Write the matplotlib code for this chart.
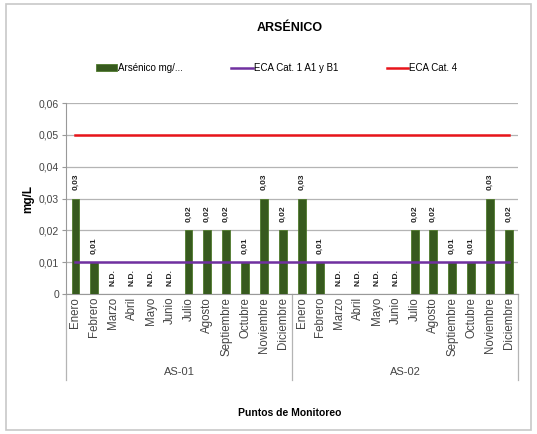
import matplotlib.pyplot as plt
from matplotlib.patches import Rectangle
import matplotlib.transforms as mtransforms

plt.rcParams['font.family'] = ['Liberation Sans', 'DejaVu Sans']

# data
meses = ['Enero', 'Febrero', 'Marzo', 'Abril', 'Mayo', 'Junio', 'Julio',
         'Agosto', 'Septiembre', 'Octubre', 'Noviembre', 'Diciembre']
puntos = ['AS-01', 'AS-02']
# None = N.D.
as01 = [0.03, 0.01, None, None, None, None, 0.02, 0.02, 0.02, 0.01, 0.03, 0.02]
as02 = [0.03, 0.01, None, None, None, None, 0.02, 0.02, 0.01, 0.01, 0.03, 0.02]
eca_cat1 = 0.01
eca_cat4 = 0.05

valores = as01 + as02
etiquetas = meses + meses
x = list(range(len(valores)))
alturas = [v if v is not None else 0 for v in valores]

fig = plt.figure(figsize=(5.37, 4.34), dpi=100)
fig.patch.set_facecolor('white')
# light frame around the chart
fig.add_artist(Rectangle((0.012, 0.01), 0.976, 0.98, transform=fig.transFigure,
                         fill=False, edgecolor='#c8c8c8', linewidth=1.2))

ax = fig.add_axes([0.123, 0.3226, 0.842, 0.44])

barras = ax.bar(x, alturas, width=0.42, color='#375a1e', edgecolor='#4f7a2c',
                linewidth=0.6, label='Arsénico mg/...', zorder=3)
l1, = ax.plot([x[0], x[-1]], [eca_cat1, eca_cat1], color='#7030a0',
              linewidth=1.8, label='ECA Cat. 1 A1 y B1', zorder=4)
l4, = ax.plot([x[0], x[-1]], [eca_cat4, eca_cat4], color='#e8141a',
              linewidth=1.8, label='ECA Cat. 4', zorder=4)

# data labels
for xi, v in zip(x, valores):
    txt = 'N.D.' if v is None else f'{v:.2f}'.replace('.', ',')
    ax.annotate(txt, (xi, v if v is not None else 0), xytext=(0, 6),
                textcoords='offset points', rotation=90, ha='center',
                va='bottom', fontsize=6, fontweight='bold', color='#222222')

ax.set_xlim(-0.5, len(valores) - 0.5)
ax.set_ylim(0, 0.06)
ax.set_yticks([0, 0.01, 0.02, 0.03, 0.04, 0.05, 0.06])
ax.set_yticklabels(['0', '0,01', '0,02', '0,03', '0,04', '0,05', '0,06'],
                   fontsize=7.5, color='#444444')
ax.yaxis.grid(True, color='#b4b4b4', linewidth=0.9, zorder=0)
ax.set_axisbelow(True)
ax.tick_params(axis='y', length=3, color='#999999', pad=2)

ax.set_xticks(x)
ax.set_xticklabels(etiquetas, rotation=90, fontsize=8.3, color='#444444')
ax.tick_params(axis='x', length=0, pad=2)

for s in ['top', 'right']:
    ax.spines[s].set_visible(False)
ax.spines['left'].set_color('#999999')
ax.spines['bottom'].set_color('#999999')

# group separators and labels
trans = mtransforms.blended_transform_factory(ax.transData, ax.transAxes)
for xs in [-0.5, 11.5, 23.5]:
    ax.plot([xs, xs], [0, -0.45], transform=trans, color='#b4b4b4',
            linewidth=0.9, clip_on=False)
for i, p in enumerate(puntos):
    ax.text(i * 12 + 5.5, -0.41, p, transform=trans, ha='center', va='center',
            fontsize=8, color='#444444')

ax.set_ylabel('mg/L', fontsize=8.5, fontweight='bold', labelpad=3)
fig.text(0.54, 0.048, 'Puntos de Monitoreo', ha='center', va='center',
         fontsize=7.5, fontweight='bold')
fig.text(0.54, 0.935, 'ARSÉNICO', ha='center', va='center',
         fontsize=9, fontweight='bold')

fig.legend([barras, l1, l4], ['Arsénico mg/...', 'ECA Cat. 1 A1 y B1', 'ECA Cat. 4'],
           loc='center', bbox_to_anchor=(0.515, 0.843), ncol=3, frameon=False,
           fontsize=7, columnspacing=5, handlelength=2.2, handletextpad=0.1)

fig.savefig('out.png', dpi=100)
